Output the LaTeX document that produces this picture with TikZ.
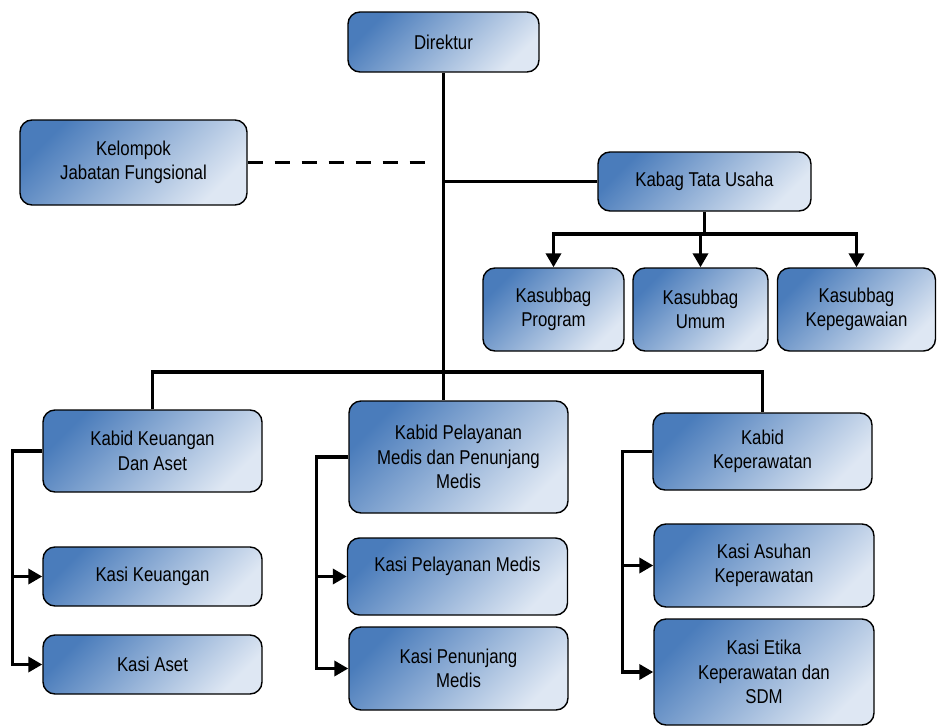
\documentclass[tikz,border=0pt]{standalone}
\usepackage{fontspec}
\setmainfont[FakeStretch=0.84]{Liberation Sans}
\usetikzlibrary{arrows.meta,positioning}
\definecolor{boxdark}{RGB}{74,124,187}
\definecolor{boxlight}{RGB}{222,231,243}
\tikzset{
  unit/.style={draw=black, line width=1.4pt, rounded corners=12pt, inner sep=0pt,
    top color=boxdark, bottom color=boxlight, shading angle=45,
    align=center, font=\fontsize{20}{24.5}\selectfont},
  line/.style={line width=3.6pt},
  arr/.style={line width=3.6pt, -{Triangle[length=14pt,width=15pt]}},
}

\begin{document}
\begin{tikzpicture}[x=1pt,y=-1pt]
\useasboundingbox (0,0) rectangle (938,726);

\node[unit, minimum width=191, minimum height=60] (direktur) at (443.5,42) {Direktur};
\node[unit, minimum width=227, minimum height=85] (fungsional) at (133.5,162.5) {Kelompok\\Jabatan Fungsional};
\node[unit, minimum width=213, minimum height=59] (tatausaha) at (704.5,181.5) {Kabag Tata Usaha};
\node[unit, minimum width=141, minimum height=83] (program) at (553.5,309.5) {Kasubbag\\Program};
\node[unit, minimum width=135, minimum height=83] (umum) at (700.5,309.5) {Kasubbag\\Umum};
\node[unit, minimum width=158, minimum height=83] (kepegawaian) at (856.5,309.5) {Kasubbag\\Kepegawaian};

\node[unit, minimum width=219, minimum height=82] (keuangan) at (152.5,451) {Kabid Keuangan\\Dan Aset};
\node[unit, minimum width=219, minimum height=59] (kasikeu) at (152.5,576.5) {Kasi Keuangan};
\node[unit, minimum width=219, minimum height=59] (kasiaset) at (152.5,664.5) {Kasi Aset};

\node[unit, minimum width=219, minimum height=112] (pelayanan) at (458.5,457) {Kabid Pelayanan\\Medis dan Penunjang\\Medis};
\node[unit, minimum width=220, minimum height=77] (kasiyan) at (457.5,576.5) {Kasi Pelayanan Medis\\\mbox{}};
\node[unit, minimum width=219, minimum height=83] (kasijang) at (458.5,668.5) {Kasi Penunjang\\Medis};

\node[unit, minimum width=219, minimum height=77] (perawat) at (762.5,451.5) {Kabid\\Keperawatan};
\node[unit, minimum width=220, minimum height=83] (kasiasuhan) at (764,565.5) {Kasi Asuhan\\Keperawatan};
\node[unit, minimum width=220, minimum height=106] (kasietika) at (764,672) {Kasi Etika\\Keperawatan dan\\SDM};

\coordinate (bus) at (443.5,372);
\coordinate (dashend) at (431,162.5);
\coordinate (tubar) at (704.5,234);

\draw[line] (direktur.south) -- (direktur.south |- pelayanan.north);
\draw[line, dash pattern=on 15pt off 12pt] (fungsional.east) -- (dashend);
\draw[line] (direktur.south |- tatausaha.west) -- (tatausaha.west);
\draw[line] (tatausaha.south) -- (tubar);
\draw[arr] (tubar) -| (program.north);
\draw[arr] (tubar) -| (kepegawaian.north);
\draw[arr] (tubar) -- (tubar -| umum.north) -- (umum.north);
\draw[line] (keuangan.north) |- (bus) -| (perawat.north);

\draw[arr] (keuangan.west) -- ++(-30,0) |- (kasiaset.west);
\draw[arr] (keuangan.west) ++(-30,0) |- (kasikeu.west);
\draw[arr] (pelayanan.west) -- ++(-32,0) |- (kasijang.west);
\draw[arr] (pelayanan.west) ++(-32,0) |- (kasiyan.west);
\draw[arr] (perawat.west) -- ++(-30,0) |- (kasietika.west);
\draw[arr] (perawat.west) ++(-30,0) |- (kasiasuhan.west);
\end{tikzpicture}
\end{document}
